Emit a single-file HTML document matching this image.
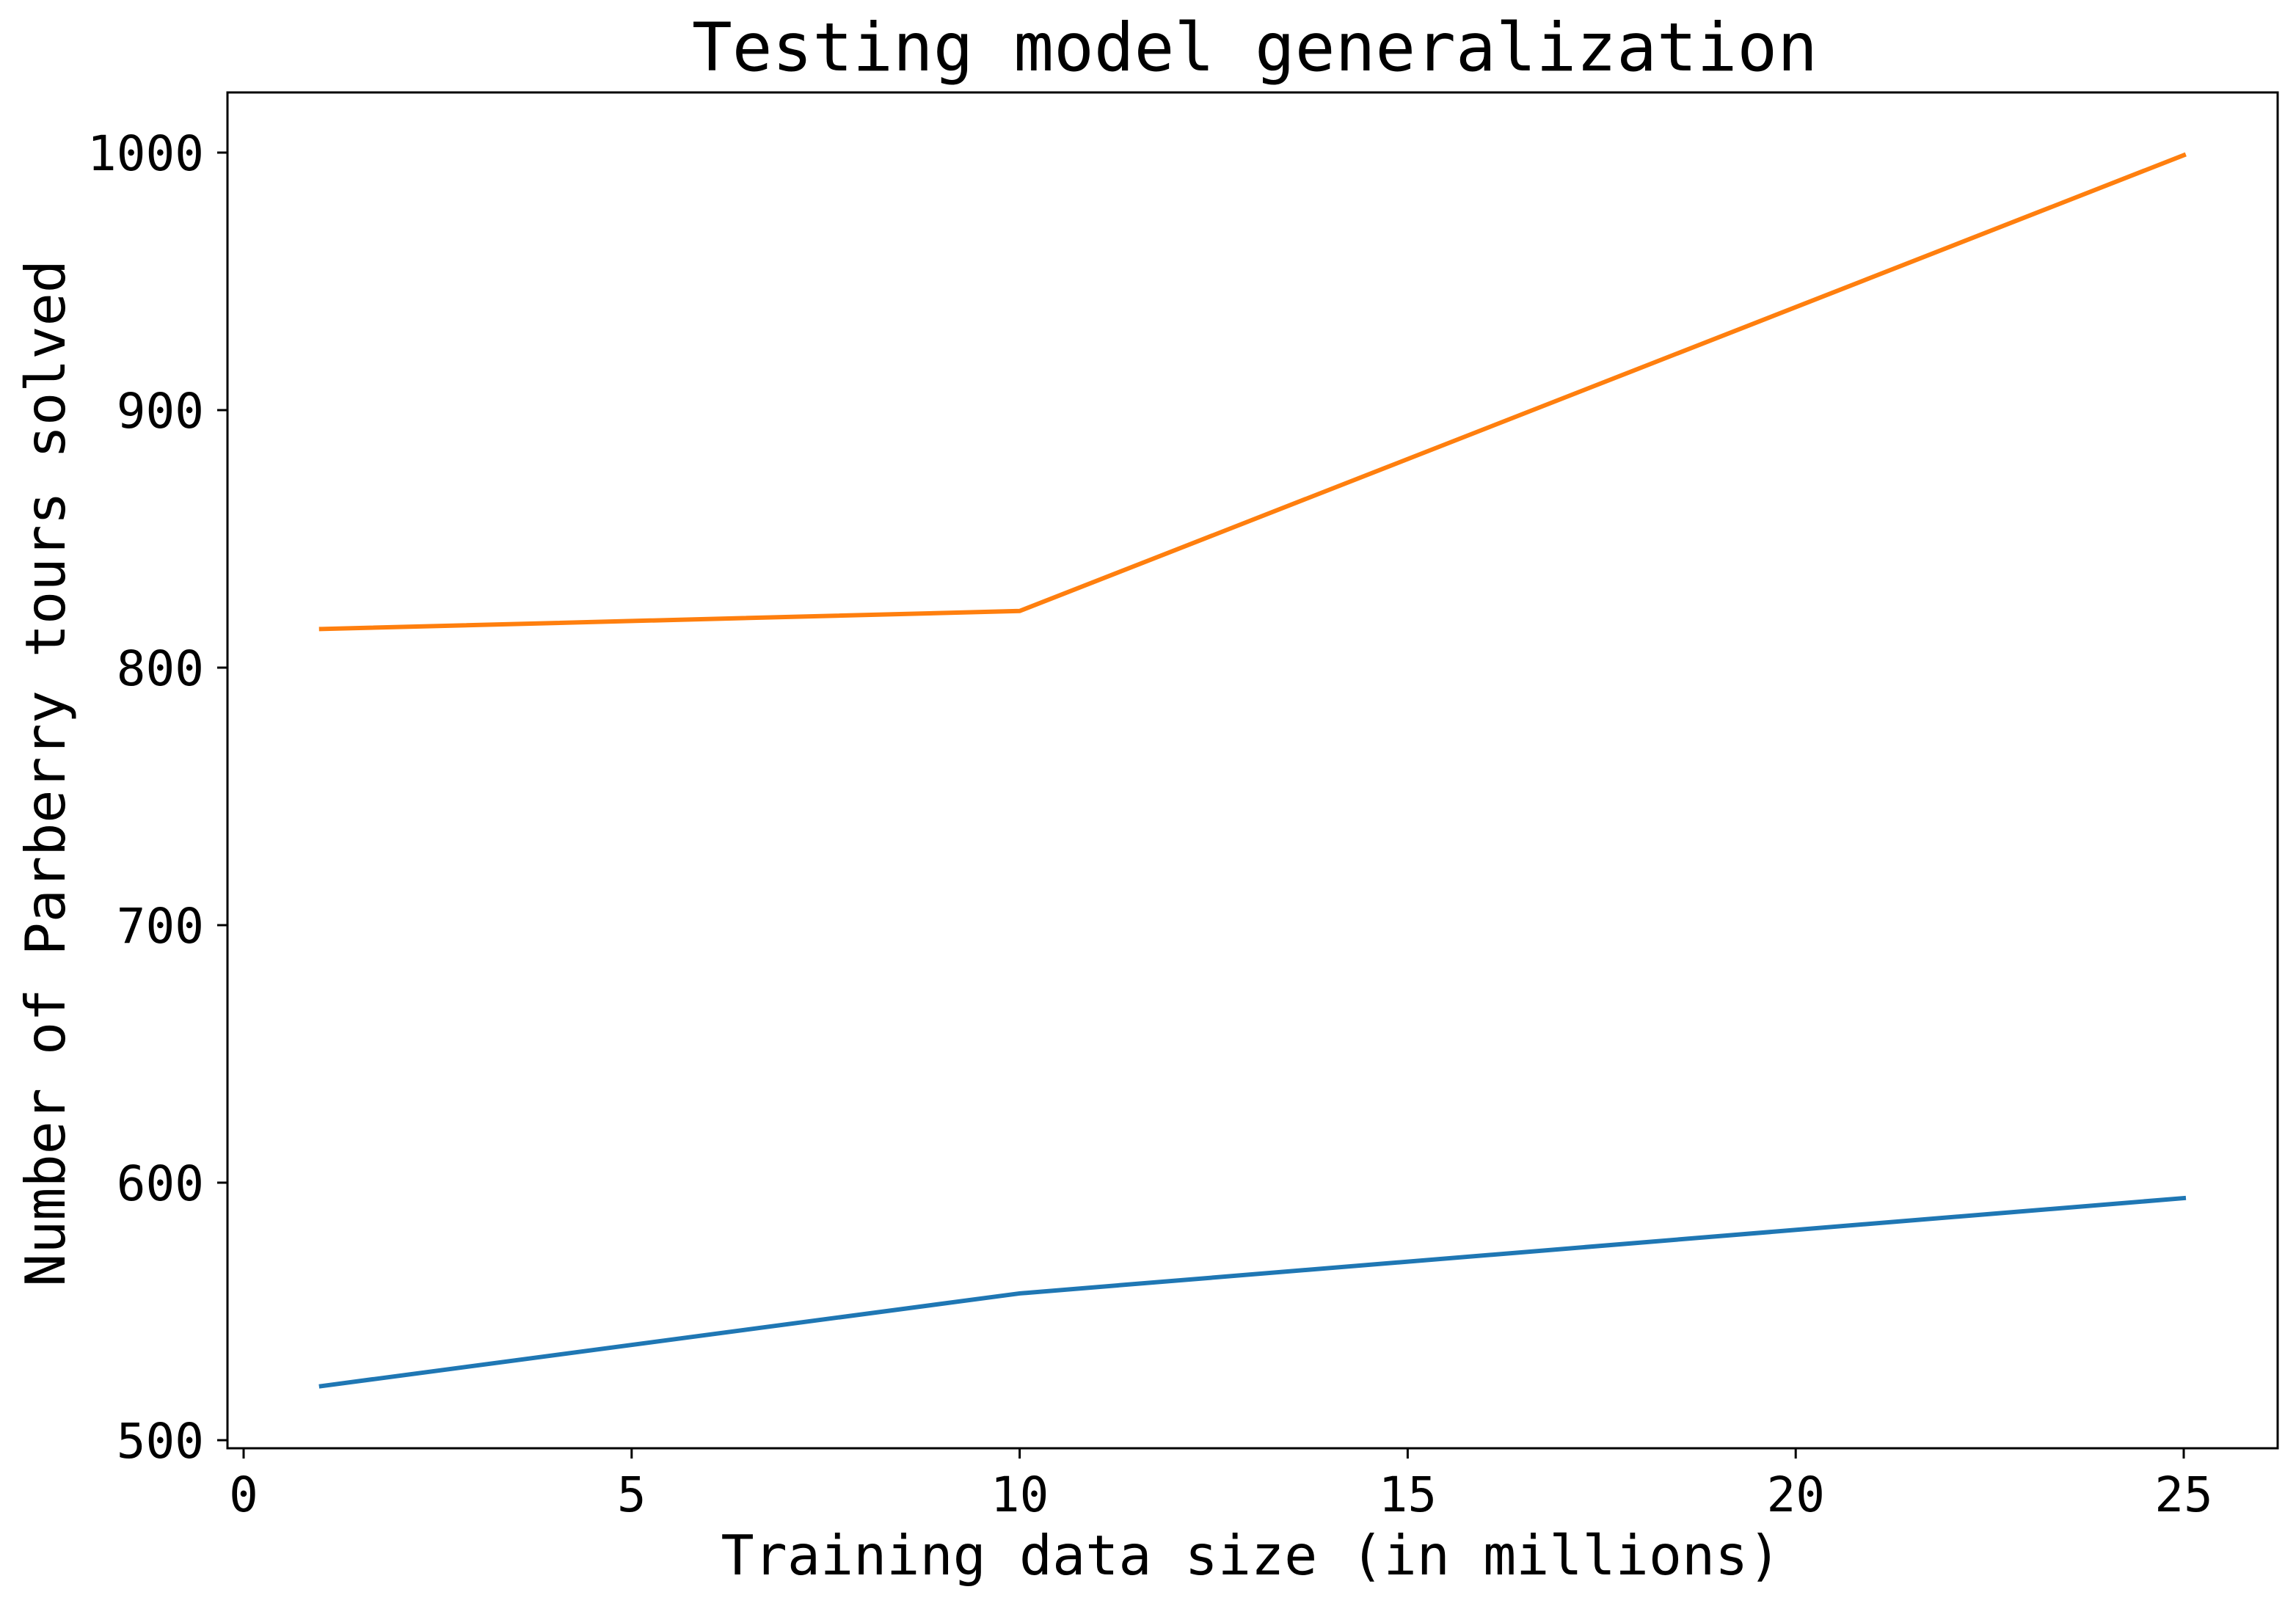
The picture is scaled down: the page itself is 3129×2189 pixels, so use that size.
<!DOCTYPE html>
<html><head><meta charset="utf-8"><style>
html,body{margin:0;padding:0;background:#fff;}
svg{display:block;font-family:"DejaVu Sans Mono","Liberation Mono",monospace;}
</style></head><body>
<svg id="chart" width="3129" height="2189" viewBox="0 0 3129 2189" xmlns="http://www.w3.org/2000/svg">
<rect width="3129" height="2189" fill="#fff"/>
<text x="1710" y="96" font-size="91" text-anchor="middle">Testing model generalization</text>
<g id="series"></g>
<rect x="310" y="126" width="2794" height="1848" fill="none" stroke="#000" stroke-width="3"/>
<g id="xticks"></g>
<g id="yticks"></g>
<text x="1705" y="2146" font-size="75" text-anchor="middle">Training data size (in millions)</text>
<text transform="translate(88,1054) rotate(-90)" font-size="75" text-anchor="middle">Number of Parberry tours solved</text>
</svg>
<script>
const xValues = [1, 10, 25];
const orangeValues = [815, 822, 999];
const blueValues = [521, 557, 594];
const xTickLabels = [0, 5, 10, 15, 20, 25];
const yTickLabels = [500, 600, 700, 800, 900, 1000];

const NS = "http://www.w3.org/2000/svg";
function xs(v){ return 332 + (v - 0) * (2976 - 332) / 25; }
function ys(v){ return 1963 + (v - 500) * (208 - 1963) / 500; }

const series = document.getElementById('series');
function drawLine(vals, color, name){
  const p = document.createElementNS(NS, 'polyline');
  p.setAttribute('points', xValues.map((x,i)=>xs(x)+','+ys(vals[i])).join(' '));
  p.setAttribute('fill','none');
  p.setAttribute('stroke',color);
  p.setAttribute('stroke-width','6');
  p.setAttribute('stroke-linecap','square');
  
  
  series.appendChild(p);
}
drawLine(blueValues, '#1f77b4', 'blue-series-line');
drawLine(orangeValues, '#ff7f0e', 'orange-series-line');

const xt = document.getElementById('xticks');
xTickLabels.forEach(v=>{
  const l = document.createElementNS(NS,'line');
  l.setAttribute('x1',xs(v)); l.setAttribute('x2',xs(v));
  l.setAttribute('y1',1974); l.setAttribute('y2',1988);
  l.setAttribute('stroke','#000'); l.setAttribute('stroke-width','3');
  
  
  xt.appendChild(l);
  const t = document.createElementNS(NS,'text');
  t.setAttribute('x',xs(v)); t.setAttribute('y',2060);
  t.setAttribute('font-size','66'); t.setAttribute('text-anchor','middle');
  t.textContent = v;
  
  
  xt.appendChild(t);
});
const yt = document.getElementById('yticks');
yTickLabels.forEach(v=>{
  const l = document.createElementNS(NS,'line');
  l.setAttribute('x1',296); l.setAttribute('x2',310);
  l.setAttribute('y1',ys(v)); l.setAttribute('y2',ys(v));
  l.setAttribute('stroke','#000'); l.setAttribute('stroke-width','3');
  
  
  yt.appendChild(l);
  const t = document.createElementNS(NS,'text');
  t.setAttribute('x',278); t.setAttribute('y',ys(v)+24);
  t.setAttribute('font-size','66'); t.setAttribute('text-anchor','end');
  t.textContent = v;
  
  
  yt.appendChild(t);
});
</script>
</body></html>
